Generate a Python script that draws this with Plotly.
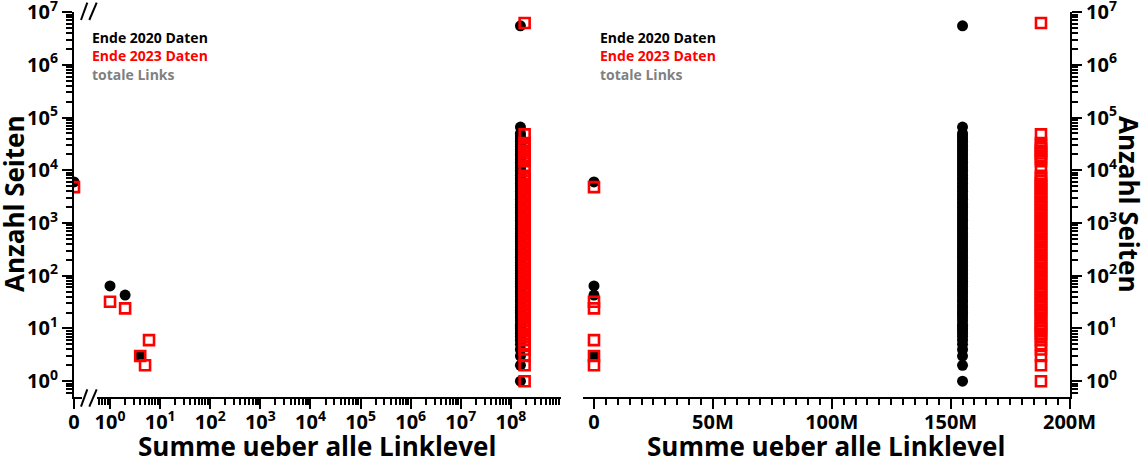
import plotly.graph_objects as go

# ---------------- data ----------------
# points with small link sums (x) and their page counts (y)
x_2020_small = [0, 1, 2, 4]
y_2020_small = [6000, 64, 43, 3]
x_2023_small = [0, 1, 2, 4, 5, 6]
y_2023_small = [4800, 32, 24, 3, 2, 6]

# total link sum of each dataset (column position)
linksum_2020 = 155_000_000
linksum_2023 = 188_000_000

# page counts in the big column
col_2020_y = [1, 2, 3, 4, 5, 6, 7, 8, 9, 10, 11, 12, 14, 16, 18, 20, 22, 25, 28, 32, 35, 40,
              45, 50, 56, 63, 71, 79, 89, 100, 112, 126, 141, 158, 178, 200, 224, 251, 282,
              316, 355, 398, 447, 501, 562, 631, 708, 794, 891, 1000, 1122, 1259, 1413, 1585,
              1778, 1995, 2239, 2512, 2818, 3162, 3548, 3981, 4467, 5012, 5623, 6310, 7079,
              7943, 8913, 10000, 11220, 12589, 14125, 15849, 17783, 19953, 22387, 25119,
              28184, 31623, 35481, 39811, 44668, 50000, 66000, 5500000]
col_2023_y = [1, 2, 3, 4, 5, 6, 7, 8, 9, 10, 11, 12, 14, 16, 18, 20, 22, 25, 28, 31, 35, 39,
              44, 49, 55, 62, 70, 78, 88, 99, 110, 124, 139, 156, 175, 196, 220, 247, 277,
              311, 349, 392, 440, 494, 554, 622, 698, 783, 879, 986, 1107, 1242, 1394, 1565,
              1756, 1971, 2212, 2483, 2786, 3127, 3510, 3939, 4421, 4962, 5569, 6250, 7015,
              7873, 11000, 14900, 16500, 18500, 20800, 23300, 26200, 29400, 33000, 48000,
              6200000]

labels = ["Ende 2020 Daten", "Ende 2023 Daten", "totale Links"]
label_colors = ["#000000", "#ff0000", "#808080"]
x_title = "Summe ueber alle Linklevel"
y_title = "Anzahl Seiten"
y_decades = [0, 1, 2, 3, 4, 5, 6, 7]
x_decades = [0, 1, 2, 3, 4, 5, 6, 7, 8]

# ---------------- build series ----------------
x2020 = x_2020_small + [linksum_2020] * len(col_2020_y)
y2020 = y_2020_small + col_2020_y
x2023 = x_2023_small + [linksum_2023] * len(col_2023_y)
y2023 = y_2023_small + col_2023_y

def split(xs, ys):
    z = [(x, y) for x, y in zip(xs, ys) if x == 0]
    nz = [(x, y) for x, y in zip(xs, ys) if x != 0]
    return [a for a, _ in z], [b for _, b in z], [a for a, _ in nz], [b for _, b in nz]

W, H = 1143, 458
def px(x): return x / W
def py(y): return 1 - y / H

FONT = "Open Sans"
BLACK = "#000000"
RED = "#ff0000"

black_marker = dict(symbol="circle", size=11, color=BLACK, line=dict(width=0))
red_marker = dict(symbol="square-open", size=10, color=RED, line=dict(width=2.6, color=RED))

fig = go.Figure()

z20x, z20y, n20x, n20y = split(x2020, y2020)
z23x, z23y, n23x, n23y = split(x2023, y2023)

# left panel: zero segment (x2) and log segment (x)
fig.add_trace(go.Scatter(x=z20x, y=z20y, mode="markers", marker=black_marker, xaxis="x2", yaxis="y"))
fig.add_trace(go.Scatter(x=z23x, y=z23y, mode="markers", marker=red_marker, xaxis="x2", yaxis="y"))
fig.add_trace(go.Scatter(x=n20x, y=n20y, mode="markers", marker=black_marker, xaxis="x", yaxis="y"))
fig.add_trace(go.Scatter(x=n23x, y=n23y, mode="markers", marker=red_marker, xaxis="x", yaxis="y"))
# right panel: linear
fig.add_trace(go.Scatter(x=x2020, y=y2020, mode="markers", marker=black_marker, xaxis="x5", yaxis="y3"))
fig.add_trace(go.Scatter(x=x2023, y=y2023, mode="markers", marker=red_marker, xaxis="x5", yaxis="y3"))

tickfont = dict(family=FONT, size=20, color=BLACK, weight="bold")
yrange = [-0.30, 7.002]
xlogrange = [-0.26, 9.0]
xlinrange = [-4.62e6, 200.2e6]

ymajor = [10 ** d for d in y_decades]
ytext = ["10<sup>%d</sup>" % d for d in y_decades]
yminor = [m * 10 ** d for d in range(-1, 7) for m in range(2, 10) if m * 10 ** d >= 0.5]
xmajor = [10 ** d for d in x_decades]
xtext = ["10<sup>%d</sup>" % d for d in x_decades]
xminor = [m * 10 ** d for d in range(-1, 9) for m in range(2, 10) if m * 10 ** d >= 0.55]

def base(**kw):
    d = dict(showgrid=False, zeroline=False, showline=True, linecolor=BLACK, linewidth=2,
             ticks="outside", ticklen=10, tickwidth=2, tickcolor=BLACK, tickfont=tickfont,
             mirror=False, ticklabeloverflow="allow", automargin=False)
    d.update(kw)
    return d

def minor(vals=None, ticks="outside", dtick=None):
    m = dict(ticks=ticks, ticklen=6, tickwidth=1.5, tickcolor=BLACK, showgrid=False)
    if vals is not None:
        m.update(tickmode="array", tickvals=vals)
    if dtick is not None:
        m.update(dtick=dtick, tick0=0)
    return m

ydom = [py(397), py(12)]

fig.update_layout(
    width=W, height=H, autosize=False,
    margin=dict(l=0, r=0, t=0, b=0, pad=0, autoexpand=False),
    paper_bgcolor="white", plot_bgcolor="rgba(0,0,0,0)",
    showlegend=False,
    # left panel
    xaxis=base(type="log", domain=[px(97), px(561)], range=xlogrange, anchor="y",
               tickmode="array", tickvals=xmajor, ticktext=xtext, minor=minor(xminor),
               ticklabelstandoff=-4),
    xaxis2=base(type="linear", domain=[px(74), px(82)], range=[0, 1], anchor="y",
                tickmode="array", tickvals=[0], ticktext=["0"], ticklabelstandoff=-4),
    xaxis3=base(type="log", overlaying="x", side="top", anchor="y", range=xlogrange,
                ticks="inside", showticklabels=False,
                tickmode="array", tickvals=xmajor, minor=minor(xminor, "inside")),
    xaxis4=base(type="linear", overlaying="x2", side="top", anchor="y", range=[0, 1],
                ticks="", showticklabels=False),
    yaxis=base(type="log", domain=ydom, range=yrange, anchor="x2",
               tickmode="array", tickvals=ymajor, ticktext=ytext, minor=minor(yminor)),
    yaxis2=base(type="log", overlaying="y", side="right", anchor="x", range=yrange,
                ticks="inside", showticklabels=False,
                tickmode="array", tickvals=ymajor, minor=minor(yminor, "inside")),
    # right panel
    xaxis5=base(type="linear", domain=[px(583), px(1070)], range=xlinrange, anchor="y3",
                tick0=0, dtick=50e6, minor=minor(dtick=5e6), ticklabelstandoff=-4),
    xaxis6=base(type="linear", overlaying="x5", side="top", anchor="y3", range=xlinrange,
                ticks="inside", showticklabels=False, tick0=0, dtick=50e6,
                minor=minor(ticks="inside", dtick=5e6)),
    yaxis3=base(type="log", domain=ydom, range=yrange, anchor="x5", side="right",
                tickmode="array", tickvals=ymajor, ticktext=ytext, minor=minor(yminor)),
    yaxis4=base(type="log", overlaying="y3", side="left", anchor="x5", range=yrange,
                ticks="inside", showticklabels=False,
                tickmode="array", tickvals=ymajor, minor=minor(yminor, "inside")),
)

# axis-break marks "//" on the left panel
shapes = []
for (yb, yt) in [(406.7, 389.3), (20.0, 2.7)]:
    for (xb, xt) in [(81.0, 87.3), (89.3, 96.7)]:
        shapes.append(dict(type="line", xref="paper", yref="paper",
                           x0=px(xb), y0=py(yb), x1=px(xt), y1=py(yt),
                           line=dict(color=BLACK, width=2)))
fig.update_layout(shapes=shapes)

annotations = []
for x0 in [90, 598]:
    for i, (t, c) in enumerate(zip(labels, label_colors)):
        annotations.append(dict(text=t, xref="paper", yref="paper", x=px(x0), y=py(38 + 18 * i),
                                xanchor="left", yanchor="middle", showarrow=False,
                                font=dict(family=FONT, size=14, color=c, weight="bold")))
titlefont = dict(family=FONT, size=26, color=BLACK, weight="bold")
annotations.append(dict(text=x_title, xref="paper", yref="paper", x=px(317), y=py(446),
                        xanchor="center", yanchor="middle", showarrow=False, font=titlefont))
annotations.append(dict(text=x_title, xref="paper", yref="paper", x=px(826), y=py(446),
                        xanchor="center", yanchor="middle", showarrow=False, font=titlefont))
annotations.append(dict(text=y_title, xref="paper", yref="paper", x=px(14), y=py(204),
                        xanchor="center", yanchor="middle", showarrow=False, textangle=-90,
                        font=titlefont))
annotations.append(dict(text=y_title, xref="paper", yref="paper", x=px(1129), y=py(204),
                        xanchor="center", yanchor="middle", showarrow=False, textangle=90,
                        font=titlefont))
fig.update_layout(annotations=annotations)

fig.write_html("out.html", config={"displayModeBar": False},
               post_script="document.body.style.margin='0px';document.body.style.padding='0px';")
